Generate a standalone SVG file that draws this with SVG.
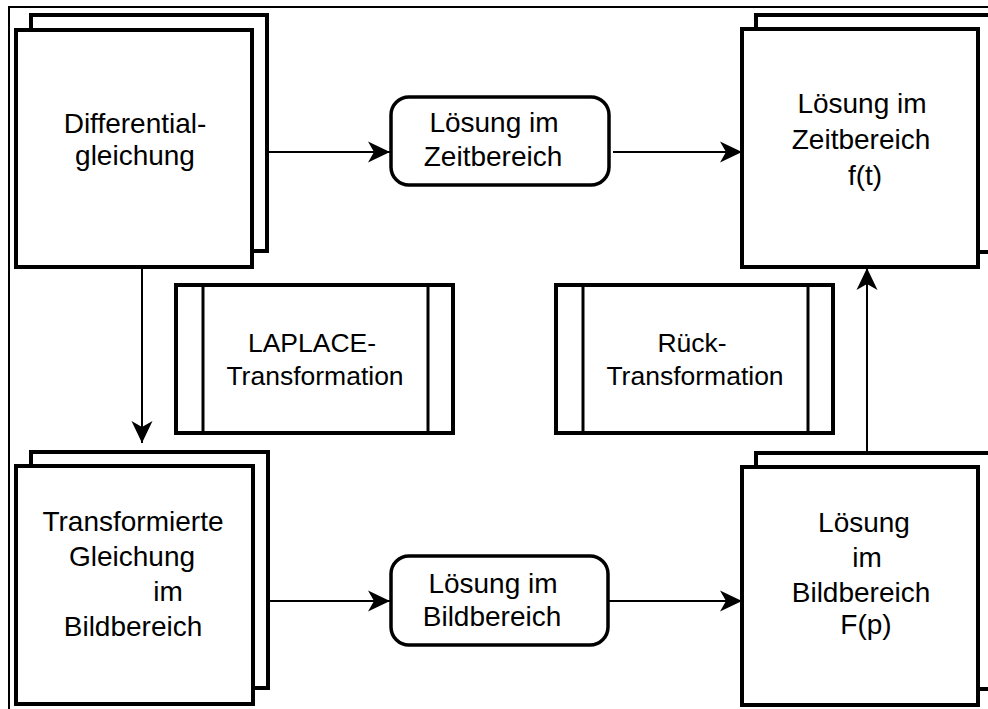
<svg xmlns="http://www.w3.org/2000/svg" width="988" height="709" viewBox="0 0 988 709">
<defs>
<style>
.box{fill:#fff;stroke:#000;stroke-width:4}
.proc{fill:#fff;stroke:#000;stroke-width:4}
.inner{stroke:#000;stroke-width:3}
.rnd{fill:#fff;stroke:#000;stroke-width:3.5}
.con{stroke:#000;stroke-width:2;fill:none}
text{font-family:"Liberation Sans",Arial,sans-serif;font-size:28px;fill:#000;text-anchor:middle}
.small{font-size:26.5px}
</style>
<marker id="arr" markerUnits="userSpaceOnUse" markerWidth="24" markerHeight="22" viewBox="-23 -11 24 22" refX="0" refY="0" orient="auto">
<path d="M0,0 L-22,-10.5 L-16,0 L-22,10.5 Z" fill="#000"/>
</marker>
</defs>
<rect x="9" y="7" width="990" height="720" fill="none" stroke="#000" stroke-width="2"/>

<g id="connectors">
<line class="con" x1="268" y1="152" x2="390" y2="152" marker-end="url(#arr)"/>
<line class="con" x1="613" y1="152" x2="742" y2="152" marker-end="url(#arr)"/>
<line class="con" x1="268" y1="601" x2="390" y2="601" marker-end="url(#arr)"/>
<line class="con" x1="609" y1="601" x2="742" y2="601" marker-end="url(#arr)"/>
<line class="con" x1="142" y1="268" x2="142" y2="443" marker-end="url(#arr)"/>
<line class="con" x1="867" y1="452" x2="867" y2="268" marker-end="url(#arr)"/>
</g>

<g id="differentialgleichung">
<rect class="box" x="31" y="15" width="236" height="236"/>
<rect class="box" x="16" y="30" width="236" height="237"/>
<text x="135" y="133">Differential-</text>
<text x="135" y="165">gleichung</text>
</g>

<g id="loesung-zeitbereich">
<rect class="box" x="756" y="15" width="240" height="237"/>
<rect class="box" x="742" y="29" width="236" height="238"/>
<text x="862" y="113">Lösung im</text>
<text x="861" y="149">Zeitbereich</text>
<text x="865" y="185">f(t)</text>
</g>

<g id="transformierte-gleichung">
<rect class="box" x="31" y="452" width="237" height="236"/>
<rect class="box" x="16" y="466" width="237" height="238"/>
<text x="133" y="531">Transformierte</text>
<text x="132" y="566">Gleichung</text>
<text x="168" y="601">im</text>
<text x="133" y="636">Bildbereich</text>
</g>

<g id="loesung-bildbereich">
<rect class="box" x="756" y="453" width="240" height="236"/>
<rect class="box" x="742" y="467" width="236" height="238"/>
<text x="864" y="532">Lösung</text>
<text x="867" y="567">im</text>
<text x="861" y="602">Bildbereich</text>
<text x="866" y="634">F(p)</text>
</g>

<g id="zeit-loesung">
<rect class="rnd" x="391" y="97" width="218" height="88" rx="18" ry="18"/>
<text x="494" y="132">Lösung im</text>
<text x="493" y="166">Zeitbereich</text>
</g>

<g id="bild-loesung">
<rect class="rnd" x="391" y="556" width="217" height="89" rx="18" ry="18"/>
<text x="493" y="593">Lösung im</text>
<text x="492" y="626">Bildbereich</text>
</g>

<g id="laplace">
<rect class="proc" x="176" y="285" width="277" height="148"/>
<line class="inner" x1="203" y1="285" x2="203" y2="433"/>
<line class="inner" x1="428" y1="285" x2="428" y2="433"/>
<text class="small" x="312" y="352">LAPLACE-</text>
<text class="small" x="315" y="385">Transformation</text>
</g>

<g id="ruecktransformation">
<rect class="proc" x="556" y="285" width="277" height="148"/>
<line class="inner" x1="583" y1="285" x2="583" y2="433"/>
<line class="inner" x1="808" y1="285" x2="808" y2="433"/>
<text class="small" x="692" y="352">Rück-</text>
<text class="small" x="695" y="385">Transformation</text>
</g>
</svg>
